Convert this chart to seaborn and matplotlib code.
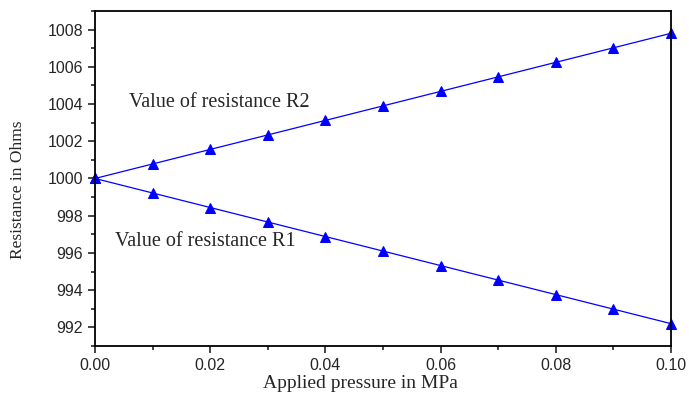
import pandas as pd
import matplotlib.pyplot as plt
import seaborn as sns
from matplotlib.ticker import MultipleLocator

# dados
pressao = [0.00, 0.01, 0.02, 0.03, 0.04, 0.05, 0.06, 0.07, 0.08, 0.09, 0.10]
r1 = [1000.0, 999.22, 998.44, 997.66, 996.88, 996.10, 995.32, 994.54, 993.76, 992.98, 992.20]
r2 = [1000.0, 1000.78, 1001.56, 1002.34, 1003.12, 1003.90, 1004.68, 1005.46, 1006.24, 1007.02, 1007.80]

df = pd.DataFrame({
    'pressao': pressao * 2,
    'resistencia': r1 + r2,
    'serie': ['R1'] * len(r1) + ['R2'] * len(r2),
})

sns.set_style('ticks')
plt.rcParams['font.family'] = ['Liberation Sans', 'DejaVu Sans']

fig = plt.figure(figsize=(6.89, 3.96), dpi=100)
ax = fig.add_axes([0.1379, 0.1263, 0.836, 0.846])

sns.lineplot(data=df, x='pressao', y='resistencia', units='serie', estimator=None,
             color='#0000ff', linewidth=0.9, marker='^', markersize=7,
             markeredgecolor='#0000ff', ax=ax, clip_on=False)

ax.set_xlim(0, 0.10)
ax.set_ylim(991, 1009)
ax.xaxis.set_major_locator(MultipleLocator(0.02))
ax.xaxis.set_minor_locator(MultipleLocator(0.01))
ax.yaxis.set_major_locator(MultipleLocator(2))
ax.yaxis.set_minor_locator(MultipleLocator(1))
ax.xaxis.set_major_formatter(plt.FormatStrFormatter('%.2f'))

ax.tick_params(axis='both', which='major', direction='out', length=5, width=1.2,
               labelsize=11.5, top=False, right=False)
ax.tick_params(axis='both', which='minor', direction='out', length=3, width=1.2,
               top=False, right=False)
for s in ax.spines.values():
    s.set_linewidth(1.3)
    s.set_color('black')

serif = ['Liberation Serif', 'DejaVu Serif']
ax.set_xlabel('Applied pressure in MPa', family=serif, fontsize=14)
ax.set_ylabel('Resistance in Ohms', family=serif, fontsize=12.5)
ax.xaxis.set_label_coords(0.46, -0.088)
ax.yaxis.set_label_coords(-0.12, 0.466)

ax.text(0.0059, 1004.1, 'Value of resistance R2', family=serif, fontsize=14.5, va='center')
ax.text(0.0035, 996.6, 'Value of resistance R1', family=serif, fontsize=14.5, va='center')

plt.savefig('out.png', dpi=100)
